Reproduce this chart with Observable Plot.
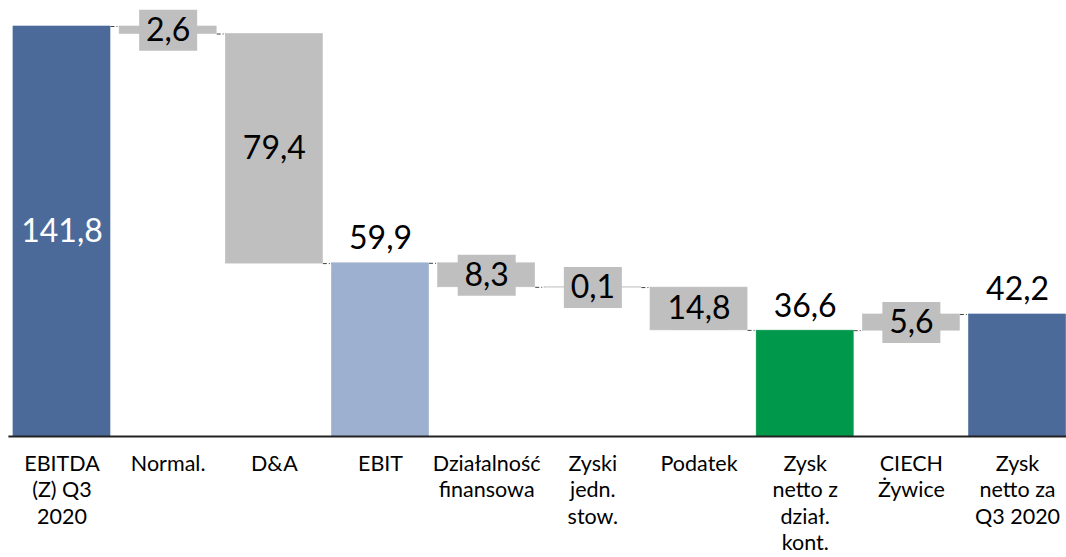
<!DOCTYPE html>
<html><head><meta charset="utf-8">
<script src="https://cdn.jsdelivr.net/npm/d3@7"></script>
<script src="https://cdn.jsdelivr.net/npm/@observablehq/plot@0.6"></script>
<style>
html,body{margin:0;padding:0;background:#fff;}
#chart{width:1066px;height:557px;overflow:hidden;}
</style></head><body><div id="chart"></div>
<script>
const categories = ["EBITDA\n(Z) Q3\n2020","Normal.","D&A","EBIT","Działalność\nfinansowa","Zyski\njedn.\nstow.","Podatek","Zysk\nnetto z\ndział.\nkont.","CIECH\nŻywice","Zysk\nnetto za\nQ3 2020"];
const values = [141.8,-2.6,-79.4,59.9,-8.3,-0.1,-14.8,36.6,5.6,42.2];
const kinds = ["total","delta","delta","total","delta","delta","delta","total","delta","total"];
const valueLabels = ["141,8","2,6","79,4","59,9","8,3","0,1","14,8","36,6","5,6","42,2"];
const barColors = ["#4B6A9A","#BFBFBF","#BFBFBF","#9DB0CF","#BFBFBF","#BFBFBF","#BFBFBF","#00984A","#BFBFBF","#4B6A9A"];

let level = 0;
const rows = categories.map((c, i) => {
  let y1, y2;
  if (kinds[i] === "total") { y1 = 0; y2 = values[i]; level = values[i]; }
  else { y1 = level; y2 = level + values[i]; level = y2; }
  return {i, c, y1, y2, top: Math.max(y1, y2), mid: (y1 + y2) / 2, end: level,
          kind: kinds[i], label: valueLabels[i], color: barColors[i]};
});
const hw = 0.457;
const connectors = rows.slice(0, -1).map(r => ({x1: r.i + hw, x2: r.i + 1 - hw, y: r.end}));
const centered = rows.filter(r => r.kind === "delta" || r.i === 0);
const above = rows.filter(r => r.kind === "total" && r.i !== 0);
const deltas = rows.filter(r => r.kind === "delta");

const boxSymbol = {draw(ctx) { ctx.rect(-29, -20.5, 58, 41); }};

const chart = Plot.plot({
  width: 1066, height: 557,
  marginLeft: 8.4, marginRight: 0, marginTop: 26, marginBottom: 121,
  style: {fontFamily: "Lato, sans-serif", fontSize: "22px", background: "#fff", color: "#000"},
  x: {domain: [-0.5, 9.461], axis: null},
  y: {domain: [0, 141.8], axis: null},
  color: {type: "identity"},
  marks: [
    Plot.rect(rows, {x1: d => d.i - hw, x2: d => d.i + hw, y1: "y1", y2: "y2", fill: "color", stroke: "color", strokeWidth: 0.6}),
    Plot.link(connectors, {x1: "x1", x2: "x2", y1: "y", y2: "y", stroke: "#404040", strokeWidth: 1, strokeDasharray: "4,2,1,2"}),
    Plot.dot(deltas, {x: "i", y: "mid", symbol: boxSymbol, r: 1, fill: "#BFBFBF", stroke: null}),
    Plot.text(centered, {x: "i", y: "mid", text: "label", fontSize: 32, lineAnchor: "middle", fill: d => d.i === 0 ? "#FFFFFF" : "#000000"}),
    Plot.text(above, {x: "i", y: "top", text: "label", fontSize: 32, lineAnchor: "bottom", dy: -14, fill: "#000"}),
    Plot.ruleY([0], {stroke: "#222", strokeWidth: 2}),
    Plot.axisX({ticks: d3.range(categories.length), tickFormat: i => categories[i], tickSize: 0, tickPadding: 16, fontSize: 21.5, lineHeight: 1.22, fill: "#000"})
  ]
});
document.getElementById("chart").appendChild(chart);
</script></body></html>
